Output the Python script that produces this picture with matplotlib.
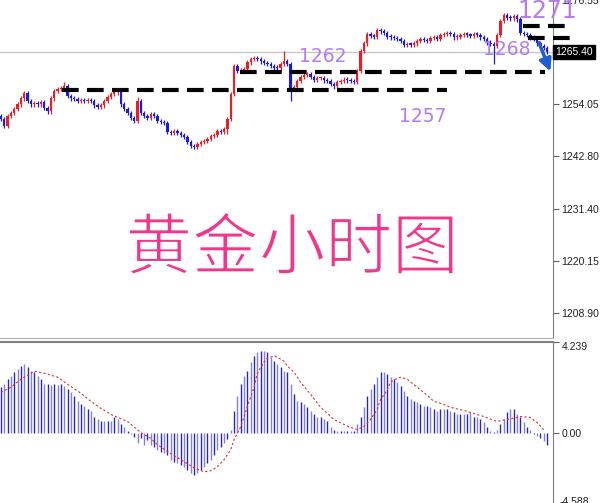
import matplotlib
matplotlib.use("Agg")
import matplotlib.pyplot as plt
import matplotlib.patheffects as pe
from matplotlib.transforms import blended_transform_factory

plt.rcParams['font.family'] = ['Liberation Sans', 'DejaVu Sans', 'Noto Sans CJK SC']

# hourly gold closes (one per bar)
closes = [
    1250.8, 1249.3, 1251.5, 1252.1, 1253.0, 1254.0, 1255.3, 1256.4, 1254.7, 1254.0,
    1254.3, 1254.0, 1254.5, 1253.2, 1252.5, 1255.3, 1256.9, 1257.3, 1257.5, 1257.9,
    1255.8, 1255.3, 1255.1, 1254.7, 1254.9, 1254.7, 1254.9, 1254.7, 1253.8, 1253.4,
    1253.8, 1254.7, 1255.6, 1256.2, 1256.6, 1257.1, 1254.0, 1253.0, 1252.1, 1251.0,
    1250.4, 1254.7, 1252.1, 1251.5, 1251.0, 1251.9, 1251.5, 1250.4, 1250.2, 1250.0,
    1248.0, 1247.8, 1248.2, 1247.8, 1247.4, 1246.9, 1245.8, 1245.0, 1244.8, 1245.4,
    1245.8, 1246.1, 1246.5, 1247.1, 1247.4, 1248.2, 1248.0, 1248.6, 1250.8, 1256.2,
    1262.3, 1261.2, 1261.4, 1261.6, 1263.1, 1263.8, 1264.0, 1263.8, 1263.3, 1262.9,
    1262.7, 1262.3, 1262.0, 1261.8, 1262.7, 1263.3, 1262.7, 1257.3, 1257.7, 1259.0,
    1259.9, 1260.3, 1260.5, 1259.9, 1259.4, 1259.7, 1259.8, 1259.2, 1259.0, 1258.4,
    1257.9, 1258.8, 1259.0, 1259.4, 1259.2, 1259.0, 1258.8, 1261.2, 1265.5, 1267.2,
    1269.2, 1268.9, 1268.7, 1270.2, 1269.8, 1269.4, 1268.7, 1268.5, 1268.3, 1268.1,
    1267.7, 1266.8, 1267.0, 1266.9, 1267.2, 1267.7, 1268.1, 1267.9, 1267.7, 1268.3,
    1268.5, 1268.1, 1269.0, 1269.2, 1269.4, 1269.2, 1268.5, 1268.7, 1269.0, 1269.2,
    1269.1, 1268.9, 1269.2, 1269.1, 1268.5, 1268.1, 1267.4, 1267.0, 1266.6, 1269.0,
    1272.0, 1273.3, 1272.8, 1272.6, 1273.1, 1272.4, 1269.4, 1269.2, 1269.0, 1268.5,
    1268.1, 1267.2, 1266.6, 1266.2, 1265.4,
]
first_open = 1251.6
# a few bars with long shadows: bar -> (high, low)
long_wicks = {19: (1258.9, None), 41: (1255.6, None), 68: (None, 1247.6),
              85: (1265.5, None), 87: (None, 1254.7), 148: (None, 1262.7)}

macd_hist = [
    2.12, 2.26, 2.50, 2.64, 2.83, 2.97, 3.11, 3.20, 3.06, 2.87,
    2.83, 2.64, 2.50, 2.26, 2.26, 2.22, 2.26, 2.22, 2.26, 2.17,
    2.03, 1.88, 1.70, 1.46, 1.32, 1.22, 1.08, 0.99, 0.75, 0.61,
    0.52, 0.52, 0.52, 0.56, 0.71, 0.61, 0.38, 0.24, 0.05, -0.05,
    -0.19, -0.47, -0.24, -0.57, -0.33, -0.57, -0.66, -0.80, -0.89, -0.94,
    -1.04, -1.27, -1.37, -1.41, -1.51, -1.60, -1.74, -1.88, -1.98, -1.88,
    -1.74, -1.60, -1.41, -1.27, -1.04, -0.80, -0.66, -0.47, -0.30, 0.14,
    0.99, 1.70, 2.26, 2.64, 2.87, 3.30, 3.58, 3.77, 3.82, 3.82,
    3.77, 3.53, 3.34, 3.20, 3.06, 2.87, 2.83, 2.26, 1.79, 1.46,
    1.41, 1.32, 1.18, 0.99, 0.85, 0.75, 0.71, 0.61, 0.52, 0.24,
    0.14, 0.05, 0.05, 0.05, 0.05, 0.05, 0.05, 0.38, 0.75, 1.18,
    1.70, 2.03, 2.26, 2.59, 2.83, 2.83, 2.73, 2.59, 2.50, 2.36,
    2.17, 1.93, 1.70, 1.55, 1.46, 1.41, 1.32, 1.22, 1.22, 1.18,
    1.08, 0.99, 1.08, 1.08, 1.08, 0.99, 0.94, 0.85, 0.85, 0.85,
    0.85, 0.94, 0.75, 0.71, 0.61, 0.47, 0.24, 0.05, 0.02, 0.14,
    0.38, 0.61, 0.94, 1.08, 1.08, 0.85, 0.71, 0.47, 0.24, 0.14,
    -0.05, -0.15, -0.25, -0.40, -0.57,
]

sig_bar = [0, 3, 6, 10, 13, 17, 20, 24, 27, 30, 33, 35, 38, 42, 45, 47, 50, 53, 56, 58,
           61, 63, 65, 67, 69, 70, 72, 74, 76, 77, 79, 80, 82, 83, 85, 86, 88, 90, 93, 96,
           100, 103, 105, 107, 109, 111, 113, 114, 116, 117, 119, 120, 122, 125, 128, 130,
           133, 135, 140, 145, 149, 152, 155, 156, 159, 161, 163]
sig_val = [1.88, 2.12, 2.50, 2.87, 2.78, 2.59, 2.26, 1.84, 1.46, 1.13, 0.85, 0.71, 0.52,
           0.00, -0.28, -0.57, -0.89, -1.18, -1.46, -1.65, -1.84, -1.79, -1.60, -1.27,
           -0.80, -0.33, 0.28, 1.22, 2.12, 2.78, 3.30, 3.49, 3.58, 3.53, 3.34, 3.11, 2.83,
           2.36, 1.79, 1.18, 0.61, 0.38, 0.24, 0.14, 0.28, 0.61, 1.08, 1.55, 1.98, 2.36,
           2.54, 2.59, 2.50, 2.12, 1.74, 1.46, 1.32, 1.18, 0.99, 0.75, 0.52, 0.61, 0.71,
           0.75, 0.71, 0.47, 0.14]

price_ticks = [1276.55, 1254.05, 1242.80, 1231.40, 1220.15, 1208.90]
last_price = 1265.40
# support / resistance lines: price, first bar, last bar
levels = [(1257.1, 18.3, 134.0), (1261.0, 71.8, 163.4),
          (1270.9, 156.8, 170.9), (1268.3, 158.3, 171.8)]
level_labels = [("1262", 96.7, 1264.3, 13.5), ("1257", 126.7, 1251.3, 13.5),
                ("1268", 152.0, 1265.8, 13.5), ("1271", 164.0, 1274.2, 17)]

W, H = 600, 503
fig = plt.figure(figsize=(W / 100, H / 100), dpi=100)
ax = fig.add_axes([0, (H - 338) / H, 553 / W, 338 / H])
ax2 = fig.add_axes([0, 0, 553 / W, (H - 342) / H])

n = len(closes)
x = list(range(n))
opens = [first_open] + closes[:-1]
up_col, dn_col = '#ee1c24', '#1a1ae6'
for i in x:
    o, c = opens[i], closes[i]
    col = up_col if c >= o else dn_col
    hi = max(o, c) + 0.45
    lo = min(o, c) - 0.45
    if i in long_wicks:
        h2, l2 = long_wicks[i]
        hi = h2 if h2 else hi
        lo = l2 if l2 else lo
    ax.vlines(i, lo, hi, color=col, linewidth=0.9)
    body = max(abs(c - o), 0.3)
    ax.bar(i, body, bottom=min(o, c), width=0.7, color=col, linewidth=0)

ax.set_xlim(-0.3, 165.8)
ax.set_ylim(1203.5, 1276.6)

ax.axhline(last_price, color='#c8c8c8', linewidth=1, zorder=0)
for p, x0, x1 in levels:
    ax.plot([x0, x1], [p, p], color='black', linewidth=3,
            dashes=(4, 2), clip_on=False, zorder=5)
for txt, bx, by, fs in level_labels:
    ax.text(bx, by, txt, color='#b47cf0', fontsize=fs, ha='center', va='center',
            family=['DejaVu Sans'], clip_on=False, zorder=6)

ax.annotate('', xy=(165.3, 1260.6), xytext=(161.3, 1267.9),
            arrowprops=dict(arrowstyle='-|>', color='#1f5fd0', lw=2.5,
                            mutation_scale=18), annotation_clip=False, zorder=7)

for a in (ax, ax2):
    for s in ('left', 'top'):
        a.spines[s].set_visible(False)
    a.spines['right'].set_color('#808080')
    a.set_xticks([])
    a.yaxis.tick_right()
    a.tick_params(axis='y', direction='out', length=4, width=0.8, color='#606060',
                  labelsize=7.5, pad=2, labelcolor='#202020')
ax.spines['bottom'].set_color('#b0b0b0')
ax2.spines['top'].set_visible(True)
ax2.spines['top'].set_color('#808080')
ax2.spines['top'].set_linewidth(1.5)
ax2.spines['bottom'].set_visible(False)

ax.set_yticks(price_ticks)
ax.set_yticklabels(['%.2f' % t for t in price_ticks])

tr = blended_transform_factory(ax.transAxes, ax.transData)
ax.text(1.004, last_price, '%.2f' % last_price, transform=tr, color='white',
        fontsize=7.5, va='center', ha='left', clip_on=False, zorder=8,
        bbox=dict(facecolor='black', edgecolor='black', pad=1.5))

fig.text(292 / W, 1 - 250 / H, '黄金小时图', fontsize=48, color='#f2368c',
         family=['Noto Sans CJK SC'], ha='center', va='center',
         path_effects=[pe.Stroke(linewidth=1.2, foreground='white')])

# MACD window
hist_cols = ['#2a2aa8' if i % 2 == 0 else '#8080ea' for i in x]
ax2.vlines(x, 0, macd_hist, colors=hist_cols, linewidth=1.0)
ax2.plot(sig_bar, sig_val, color='#e03030', linewidth=0.8, linestyle=(0, (2, 2)))
ax2.set_xlim(-0.3, 165.8)
ax2.set_ylim(-3.30, 4.239)
ax2.set_yticks([4.239, 0.0])
ax2.set_yticklabels(['4.239', '0.00'])
ax2.get_yticklabels()[0].set_va('top')
fig.text(560 / W, 6 / H, '-4.588', fontsize=7.5, color='#202020', va='top')

fig.savefig('out.png', dpi=100)
